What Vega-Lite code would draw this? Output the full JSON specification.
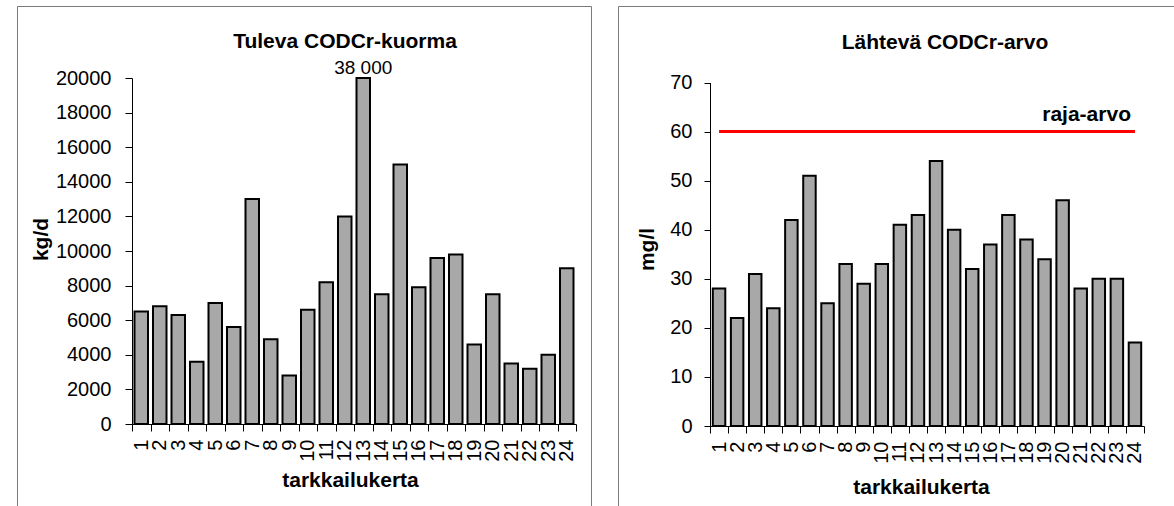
{
  "$schema": "https://vega.github.io/schema/vega-lite/v6.json",
  "padding": {"left": 6, "top": 5, "right": 0, "bottom": 0},
  "spacing": 27,
  "bounds": "flush",
  "datasets": {
    "tuleva": [
      {"kerta": 1, "kgd": 6500}, {"kerta": 2, "kgd": 6800}, {"kerta": 3, "kgd": 6300}, {"kerta": 4, "kgd": 3600},
      {"kerta": 5, "kgd": 7000}, {"kerta": 6, "kgd": 5600}, {"kerta": 7, "kgd": 13000}, {"kerta": 8, "kgd": 4900},
      {"kerta": 9, "kgd": 2800}, {"kerta": 10, "kgd": 6600}, {"kerta": 11, "kgd": 8200}, {"kerta": 12, "kgd": 12000},
      {"kerta": 13, "kgd": 38000}, {"kerta": 14, "kgd": 7500}, {"kerta": 15, "kgd": 15000}, {"kerta": 16, "kgd": 7900},
      {"kerta": 17, "kgd": 9600}, {"kerta": 18, "kgd": 9800}, {"kerta": 19, "kgd": 4600}, {"kerta": 20, "kgd": 7500},
      {"kerta": 21, "kgd": 3500}, {"kerta": 22, "kgd": 3200}, {"kerta": 23, "kgd": 4000}, {"kerta": 24, "kgd": 9000}
    ],
    "lahteva": [
      {"kerta": 1, "mgl": 28}, {"kerta": 2, "mgl": 22}, {"kerta": 3, "mgl": 31}, {"kerta": 4, "mgl": 24},
      {"kerta": 5, "mgl": 42}, {"kerta": 6, "mgl": 51}, {"kerta": 7, "mgl": 25}, {"kerta": 8, "mgl": 33},
      {"kerta": 9, "mgl": 29}, {"kerta": 10, "mgl": 33}, {"kerta": 11, "mgl": 41}, {"kerta": 12, "mgl": 43},
      {"kerta": 13, "mgl": 54}, {"kerta": 14, "mgl": 40}, {"kerta": 15, "mgl": 32}, {"kerta": 16, "mgl": 37},
      {"kerta": 17, "mgl": 43}, {"kerta": 18, "mgl": 38}, {"kerta": 19, "mgl": 34}, {"kerta": 20, "mgl": 46},
      {"kerta": 21, "mgl": 28}, {"kerta": 22, "mgl": 30}, {"kerta": 23, "mgl": 30}, {"kerta": 24, "mgl": 17}
    ],
    "raja": [{"limit": 60, "label": "raja-arvo"}]
  },
  "config": {
    "font": "Liberation Sans",
    "view": {"stroke": "#7a7a7a", "strokeWidth": 1},
    "locale": {"number": {"decimal": ",", "thousands": " ", "grouping": [3], "currency": ["", " €"]}},
    "axis": {
      "domainColor": "#000", "tickColor": "#000", "labelColor": "#000", "titleColor": "#000",
      "labelFont": "Liberation Sans", "titleFont": "Liberation Sans",
      "labelFontSize": 20, "titleFontSize": 21, "titleFontWeight": "bold",
      "grid": false, "domainWidth": 1, "tickWidth": 1
    }
  },
  "hconcat": [
    {
      "width": 574,
      "height": 501,
      "title": {"text": "Tuleva CODCr-kuorma", "fontSize": 21, "fontWeight": "bold", "font": "Liberation Sans", "color": "#000", "anchor": "middle", "frame": "group", "offset": -57, "baseline": "middle", "dx": 41},
      "data": {"name": "tuleva"},
      "encoding": {
        "x": {
          "field": "kerta", "type": "ordinal",
          "scale": {"range": [115, 559], "paddingInner": 0, "paddingOuter": 0},
          "axis": {"title": "tarkkailukerta", "labelAngle": -90, "labelFontSize": 20, "offset": -83, "tickBand": "extent", "tickSize": 7, "labelPadding": 8, "labelOverlap": false, "titleX": 333, "titleY": 56, "titleBaseline": "middle", "titleAlign": "center"}
        },
        "y": {
          "field": "kgd", "type": "quantitative",
          "scale": {"domain": [0, 20000], "range": [418, 72], "clamp": true, "nice": false},
          "axis": {"title": "kg/d", "values": [0, 2000, 4000, 6000, 8000, 10000, 12000, 14000, 16000, 18000, 20000], "format": "d", "labelFontSize": 20, "offset": -115, "tickSize": 7, "labelPadding": 14, "titleX": -91, "titleY": 233, "titleBaseline": "middle", "titleAlign": "center", "titleAngle": -90}
        }
      },
      "layer": [
        {"mark": {"type": "bar", "fill": "#a8a8a8", "stroke": "#000", "strokeWidth": 2, "width": {"band": 0.73}}},
        {
          "transform": [{"filter": "datum.kgd > 20000"}],
          "mark": {"type": "text", "fontSize": 19, "baseline": "bottom", "color": "#000"},
          "encoding": {"text": {"field": "kgd", "type": "quantitative", "format": ",d"}}
        }
      ]
    },
    {
      "width": 566,
      "height": 501,
      "title": {"text": "Lähtevä CODCr-arvo", "fontSize": 21, "fontWeight": "bold", "font": "Liberation Sans", "color": "#000", "anchor": "middle", "frame": "group", "offset": -58, "baseline": "middle", "dx": 44},
      "layer": [
        {
          "data": {"name": "lahteva"},
          "mark": {"type": "bar", "fill": "#a8a8a8", "stroke": "#000", "strokeWidth": 2, "width": {"band": 0.69}},
          "encoding": {
            "x": {
              "field": "kerta", "type": "ordinal",
              "scale": {"range": [92, 526], "paddingInner": 0, "paddingOuter": 0},
              "axis": {"title": "tarkkailukerta", "labelAngle": -90, "labelFontSize": 20, "offset": -81, "tickBand": "extent", "tickSize": 7, "labelPadding": 8, "labelOverlap": false, "titleX": 303, "titleY": 61, "titleBaseline": "middle", "titleAlign": "center"}
            },
            "y": {
              "field": "mgl", "type": "quantitative",
              "scale": {"domain": [0, 70], "range": [420, 76.5], "nice": false},
              "axis": {"title": "mg/l", "values": [0, 10, 20, 30, 40, 50, 60, 70], "format": "d", "labelFontSize": 20, "offset": -92, "tickSize": 6, "labelPadding": 12, "titleX": -63, "titleY": 243, "titleBaseline": "middle", "titleAlign": "center", "titleAngle": -90}
            }
          }
        },
        {
          "data": {"name": "raja"},
          "mark": {"type": "rule", "color": "#ff0000", "strokeWidth": 3},
          "encoding": {
            "x": {"datum": 1, "type": "ordinal"},
            "x2": {"datum": 24},
            "y": {"field": "limit", "type": "quantitative"}
          }
        },
        {
          "data": {"name": "raja"},
          "mark": {"type": "text", "fontSize": 21, "fontWeight": "bold", "align": "right", "baseline": "alphabetic", "dx": -4, "dy": -11, "color": "#000"},
          "encoding": {
            "x": {"datum": 24, "type": "ordinal"},
            "y": {"field": "limit", "type": "quantitative"},
            "text": {"field": "label"}
          }
        }
      ]
    }
  ]
}
